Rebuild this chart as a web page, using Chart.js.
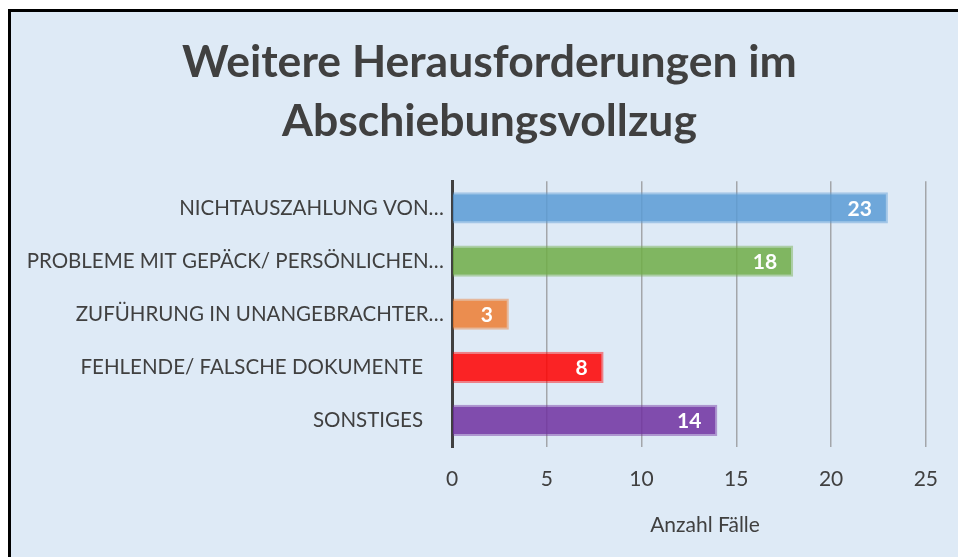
<!DOCTYPE html>
<html>
<head>
<meta charset="utf-8">
<script src="https://cdn.jsdelivr.net/npm/chart.js@4"></script>
<style>
  html, body { margin: 0; padding: 0; background: #fff; }
  #frame {
    position: absolute; left: 8px; top: 9px;
    width: 947px; height: 545px;
    border-left: 3px solid #000; border-top: 3px solid #000;
    background: #DEEAF6;
  }
  #chart { display: block; }
</style>
</head>
<body>
<div id="frame"><canvas id="chart" width="947" height="545"></canvas></div>
<script>
// Daten
const categories = [
  "NICHTAUSZAHLUNG VON…",
  "PROBLEME MIT GEPÄCK/ PERSÖNLICHEN…",
  "ZUFÜHRUNG IN UNANGEBRACHTER…",
  "FEHLENDE/ FALSCHE DOKUMENTE    ",
  "SONSTIGES    ",
];
const values = [23, 18, 3, 8, 14];
const barColors = [
  "rgba(91,155,213,0.85)",
  "rgba(112,173,71,0.85)",
  "rgba(237,125,49,0.85)",
  "rgba(255,0,0,0.85)",
  "rgba(112,48,160,0.85)",
];
const borderColors = [
  "rgba(91,155,213,0.45)",
  "rgba(112,173,71,0.45)",
  "rgba(237,125,49,0.45)",
  "rgba(255,0,0,0.45)",
  "rgba(112,48,160,0.45)",
];
const xTicks = [0, 5, 10, 15, 20, 25];

const FONT = "Lato, 'Open Sans', sans-serif";
const TXT = "#404040";

// Werte in die Balken schreiben (weiß, fett, rechts innen)
const barLabels = {
  id: "barLabels",
  afterDatasetsDraw(chart) {
    const ctx = chart.ctx;
    const meta = chart.getDatasetMeta(0);
    ctx.save();
    ctx.fillStyle = "#fff";
    ctx.font = "bold 21px " + FONT;
    ctx.textAlign = "right";
    ctx.textBaseline = "middle";
    meta.data.forEach((bar, i) => {
      ctx.fillText(String(values[i]), bar.x - 16, bar.y + 1);
    });
    ctx.restore();
  },
};

// Titelmitte etwas nach rechts, wie im Original
const shiftTitle = {
  id: "shiftTitle",
  beforeDraw(chart) {
    if (chart.titleBlock) chart.titleBlock.left = 40;
  },
};

new Chart(document.getElementById("chart"), {
  type: "bar",
  data: {
    labels: categories,
    datasets: [{
      data: values,
      backgroundColor: barColors,
      borderColor: borderColors,
      borderWidth: 2,
      categoryPercentage: 1,
      barPercentage: 0.59,
    }],
  },
  options: {
    indexAxis: "y",
    responsive: false,
    animation: false,
    layout: { padding: { left: 0, right: 30, top: 0, bottom: 0 } },
    plugins: {
      legend: { display: false },
      tooltip: { enabled: false },
      title: {
        display: true,
        text: ["Weitere Herausforderungen im", "Abschiebungsvollzug"],
        color: TXT,
        font: { family: FONT, size: 44.5, weight: "bold", lineHeight: 1.33 },
        padding: { top: 21, bottom: 30 },
      },
    },
    scales: {
      x: {
        min: 0,
        max: 25,
        afterBuildTicks: (s) => { s.ticks = xTicks.map(v => ({ value: v })); },
        afterFit: (s) => { s.height = 110; },
        grid: {
          drawTicks: false,
          color: (c) => c.index === 0 ? "rgba(0,0,0,0)" : "#A3A6AA",
          lineWidth: 1.5,
        },
        border: { display: false },
        ticks: {
          color: TXT,
          padding: 20,
          font: { family: FONT, size: 21 },
        },
        title: {
          display: true,
          text: "      Anzahl Fälle",
          color: TXT,
          font: { family: FONT, size: 21 },
          padding: { top: 8, bottom: 19 },
        },
      },
      y: {
        afterFit: (s) => { s.width = 441; },
        grid: { display: false, drawTicks: false },
        border: { display: true, color: "#404040", width: 3 },
        ticks: {
          color: TXT,
          padding: 8,
          font: { family: FONT, size: 20.5 },
        },
      },
    },
  },
  plugins: [barLabels, shiftTitle],
});
</script>
</body>
</html>
